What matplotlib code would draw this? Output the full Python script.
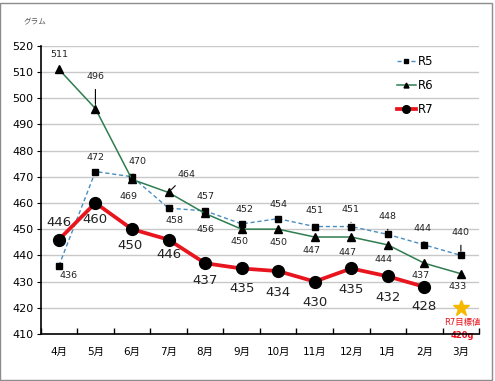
import numpy as np
import matplotlib.pyplot as plt
from matplotlib.patches import Rectangle

plt.rcParams['font.family'] = ['DejaVu Sans', 'Noto Sans CJK JP']

# データ
months = ['4月', '5月', '6月', '7月', '8月', '9月', '10月', '11月', '12月', '1月', '2月', '3月']
r5 = [436, 472, 470, 458, 457, 452, 454, 451, 451, 448, 444, 440]
r6 = [511, 496, 469, 464, 456, 450, 450, 447, 447, 444, 437, 433]
r7 = [446, 460, 450, 446, 437, 435, 434, 430, 435, 432, 428]
target = 420

# ラベル位置 (pixel offset), leader line有無
r5_off = [(10, 10), (0, -14), (6, -15), (6, 12), (0, -14), (3, -14),
          (0, -14), (0, -16), (-1, -17), (0, -18), (-2, -16), (0, -23)]
r5_arrow = [0, 0, 1, 0, 0, 0, 0, 0, 1, 1, 1, 1]
r6_off = [(0, -15), (0, -32), (-3, 17), (18, -18), (0, 16), (-2, 12),
          (0, 13), (-3, 13), (-4, 15), (-4, 15), (-4, 12), (-3, 13)]
r6_arrow = [0, 1, 1, 1, 1, 0, 0, 0, 1, 1, 0, 0]
r7_off = [(0, -17), (0, 17), (-2, 16), (0, 15), (0, 17), (0, 20),
          (0, 21), (0, 21), (0, 21), (0, 21), (0, 20)]

fig = plt.figure(figsize=(4.95, 3.81), dpi=100)
ax = fig.add_axes([0.082, 0.1234, 0.886, 0.7566])

x = np.arange(len(months))
ax.plot(x, r5, color='#4a8ec0', lw=1.0, ls=(0, (3, 2)), marker='s', ms=5,
        mfc='black', mec='black', label='R5', zorder=3)
ax.plot(x, r6, color='#2e7d4f', lw=1.1, marker='^', ms=5.5,
        mfc='black', mec='black', label='R6', zorder=3)
ax.plot(x[:len(r7)], r7, color='#e8141e', lw=2.7, marker='o', ms=8.5,
        mfc='black', mec='black', label='R7', zorder=4)
ax.plot(x[-1], target, marker='*', ms=12, color='#f5b800', mec='#f5b800', zorder=4)

def labels(vals, offs, arrows, size):
    for i, v in enumerate(vals):
        dx, dy = offs[i]
        arrow = arrows[i] if arrows else 0
        ax.annotate(str(v), (x[i], v), xytext=(dx, -dy), textcoords='offset pixels',
                    ha='center', va='center', fontsize=size, color='#222222',
                    arrowprops=dict(arrowstyle='-', color='black', lw=0.8,
                                    shrinkA=4, shrinkB=3) if arrow else None,
                    zorder=5)

labels(r5, r5_off, r5_arrow, 6.8)
labels(r6, r6_off, r6_arrow, 6.8)
labels(r7, r7_off, None, 9.5)

ax.annotate('R7目標値', (x[-1], target), xytext=(1, -15), textcoords='offset pixels',
            ha='center', va='center', fontsize=6, color='#e8141e')
ax.annotate('420g', (x[-1], target), xytext=(1, -28), textcoords='offset pixels',
            ha='center', va='center', fontsize=6, color='#e8141e',
            fontweight='bold', annotation_clip=False, zorder=1)

ax.set_xlim(-0.5, len(months) - 0.5)
ax.set_ylim(410, 520)
ax.set_yticks(np.arange(410, 521, 10))
ax.set_xticks(x)
ax.set_xticklabels(months)
ax.set_xticks(np.arange(-0.5, len(months), 1), minor=True)
ax.tick_params(axis='x', which='major', length=0, pad=9, labelsize=7.5)
ax.tick_params(axis='x', which='minor', direction='in', length=4, width=1)
ax.tick_params(axis='y', direction='out', length=3, pad=2, labelsize=8)
ax.grid(axis='y', color='#c8c8c8', lw=1)
ax.set_axisbelow(True)
for s in ['top', 'right']:
    ax.spines[s].set_visible(False)
for s in ['left', 'bottom']:
    ax.spines[s].set_linewidth(1.2)
    ax.spines[s].set_zorder(6)

fig.text(0.047, 0.942, 'グラム', fontsize=5.5, color='#555555', ha='left', va='center')

ax.legend(loc='upper left', bbox_to_anchor=(0.79, 0.87), bbox_transform=fig.transFigure,
          frameon=False, fontsize=8.5, handlelength=1.6, handletextpad=0.2,
          labelspacing=0.9, borderpad=0, markerscale=0.65)

fig.patches.append(Rectangle((0.001, 0.003), 0.992, 0.99, transform=fig.transFigure,
                             fill=False, edgecolor='#8c8c8c', lw=1))

fig.savefig('out.png', dpi=100)
